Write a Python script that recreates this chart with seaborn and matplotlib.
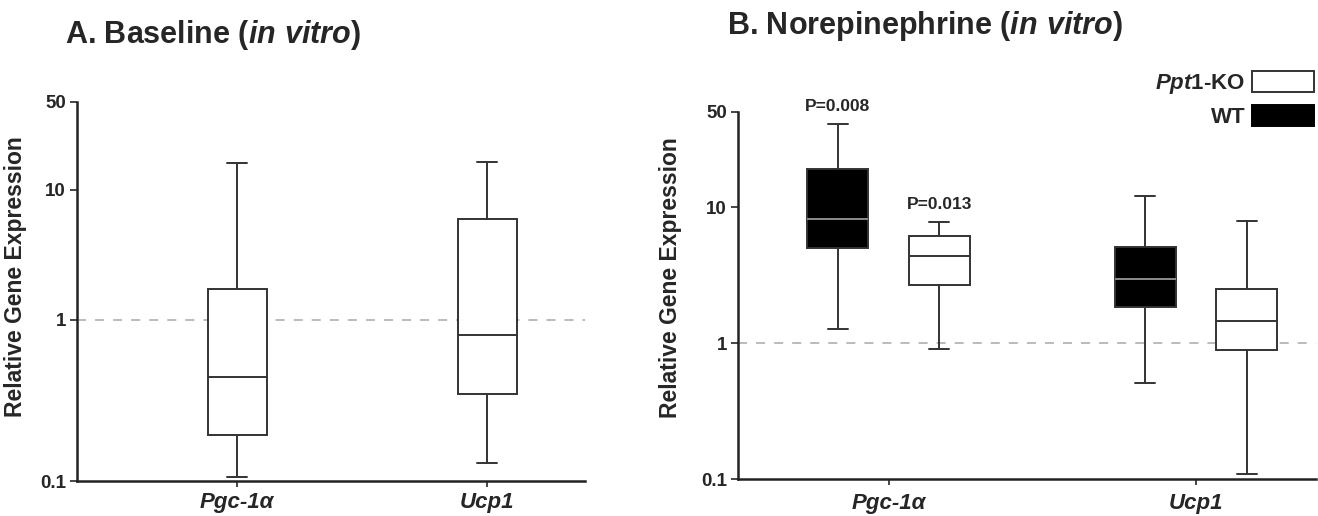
import numpy as np
import pandas as pd
import matplotlib
matplotlib.use("Agg")
import matplotlib.pyplot as plt
from matplotlib.patches import Patch
import seaborn as sns

# ---------------- data ----------------
genes = ["Pgc-1α", "Ucp1"]
groups = ["WT", "Ppt1-KO"]
# five-number summaries: [min, q1, median, q3, max]
baseline_pgc = [0.106, 0.193, 0.443, 1.73, 16.4]
baseline_ucp = [0.129, 0.347, 0.807, 5.98, 16.7]
ne_pgc_wt = [1.26, 5.0, 8.2, 19.2, 40.7]
ne_pgc_ko = [0.90, 2.67, 4.34, 6.15, 7.8]
ne_ucp_wt = [0.51, 1.83, 2.97, 5.1, 12.0]
ne_ucp_ko = [0.109, 0.89, 1.44, 2.49, 7.9]
p_labels = ["P=0.008", "P=0.013"]
ytick_vals = [0.1, 1, 10, 50]
ytick_labels = ["0.1", "1", "10", "50"]

dfA = pd.DataFrame({
    "gene": np.repeat(genes, 5),
    "value": baseline_pgc + baseline_ucp,
})
dfB = pd.DataFrame({
    "gene": np.repeat(genes, 10),
    "group": ["WT"] * 5 + ["Ppt1-KO"] * 5 + ["WT"] * 5 + ["Ppt1-KO"] * 5,
    "value": ne_pgc_wt + ne_pgc_ko + ne_ucp_wt + ne_ucp_ko,
})

# ---------------- style ----------------
sns.set_style("ticks")
plt.rcParams["font.family"] = ["Liberation Sans", "DejaVu Sans"]
plt.rcParams["font.weight"] = "bold"
plt.rcParams["mathtext.fontset"] = "custom"
plt.rcParams["mathtext.rm"] = "Liberation Sans:bold"
plt.rcParams["mathtext.it"] = "Liberation Sans:italic:bold"
plt.rcParams["mathtext.bf"] = "Liberation Sans:bold"

W, H = 1318, 516
fig = plt.figure(figsize=(W / 100, H / 100), dpi=100)
fig.patch.set_facecolor("white")

def px_axes(x0, x1, ytop, ybot):
    return fig.add_axes([x0 / W, 1 - ybot / H, (x1 - x0) / W, (ybot - ytop) / H])

axA = px_axes(77, 585, 102, 481)
axB = px_axes(738, 1316, 112, 479)

# Panel A of the original uses an unevenly spaced logarithmic axis
# (decades of different lengths); reproduce it with a piecewise-log scale.
_knot_log = np.array([-1.0, 0.0, 1.0, np.log10(50)])
_knot_pos = np.array([0.0, 161.0, 291.0, 379.0])

def _fwd(y):
    y = np.clip(np.asarray(y, dtype=float), 1e-6, None)
    return np.interp(np.log10(y), _knot_log, _knot_pos)

def _inv(p):
    return 10 ** np.interp(np.asarray(p, dtype=float), _knot_pos, _knot_log)

edge = "#333333"
lw = 1.4

sns.boxplot(data=dfA, x="gene", y="value", ax=axA, color="white",
            linecolor=edge, linewidth=lw, width=0.236, whis=(0, 100),
            saturation=1, capwidths=0.08, zorder=3)
axA.set_yscale("function", functions=(_fwd, _inv))

sns.boxplot(data=dfB, x="gene", y="value", hue="group", hue_order=groups,
            ax=axB, palette={"WT": "black", "Ppt1-KO": "white"},
            linecolor=edge, linewidth=lw, width=0.66, gap=0.4, dodge=True,
            whis=(0, 100), saturation=1, log_scale=True, capwidths=0.065,
            legend=False, zorder=3)

# gray medians inside black boxes
for cont in axB.containers:
    try:
        boxes = cont.boxes
        meds = cont.medians
    except AttributeError:
        continue
    for b, m in zip(boxes, meds):
        fc = b.get_facecolor()
        if sum(fc[:3]) < 0.5:
            m.set_color("#8c8c8c")

for ax in (axA, axB):
    ax.axhline(1, color="#b5b5b5", ls=(0, (5, 5)), lw=1.3, zorder=1)
    ax.set_ylim(0.1, 50)
    ax.set_yticks(ytick_vals)
    ax.set_yticklabels(ytick_labels)
    ax.yaxis.set_minor_locator(matplotlib.ticker.NullLocator())
    for s in ["top", "right"]:
        ax.spines[s].set_visible(False)
    for s in ["left", "bottom"]:
        ax.spines[s].set_linewidth(1.8)
        ax.spines[s].set_color("#222222")
    ax.tick_params(axis="y", length=5, width=1.2, labelsize=13.5, pad=3)
    ax.tick_params(axis="x", length=4, width=1.2, labelsize=16)
    ax.set_xlabel("")
    ax.set_ylabel("Relative Gene Expression", fontsize=16.5, fontweight="bold")
    for lbl in ax.get_xticklabels():
        lbl.set_fontstyle("italic")
        lbl.set_fontweight("bold")
    for lbl in ax.get_yticklabels():
        lbl.set_fontweight("bold")

axA.set_xlim(-0.64, 1.39)
axB.set_xlim(-0.49, 1.39)
axA.tick_params(axis="x", pad=4)
axB.tick_params(axis="x", pad=6)
axA.yaxis.set_label_coords(-0.098, 0.54)
axB.yaxis.set_label_coords(-0.097, 0.55)

# p-value annotations above the top whiskers
axB.text(-0.165, ne_pgc_wt[-1] * 1.18, p_labels[0], ha="center", va="bottom",
         fontsize=12.5, fontweight="bold")
axB.text(0.165, ne_pgc_ko[-1] * 1.18, p_labels[1], ha="center", va="bottom",
         fontsize=12.5, fontweight="bold")

# titles
fig.text(65 / W, 1 - 43 / H, r"A. Baseline ($\mathit{in\ vitro}$)",
         fontsize=22, fontweight="bold", va="baseline", ha="left")
fig.text(727 / W, 1 - 34 / H, r"B. Norepinephrine ($\mathit{in\ vitro}$)",
         fontsize=22, fontweight="bold", va="baseline", ha="left")

# legend
handles = [Patch(facecolor="white", edgecolor=edge, linewidth=1.4),
           Patch(facecolor="black", edgecolor="black", linewidth=1.4)]
labels = [r"$\mathit{Ppt1}$-KO", "WT"]
fig.legend(handles, labels, loc="upper right",
           bbox_to_anchor=(1314 / W, 1 - 71 / H), frameon=False,
           markerfirst=False, fontsize=16, handlelength=2.8,
           handleheight=1.1, labelspacing=0.4, handletextpad=0.3,
           borderpad=0, borderaxespad=0)

fig.savefig("out.png", dpi=100, facecolor="white")
